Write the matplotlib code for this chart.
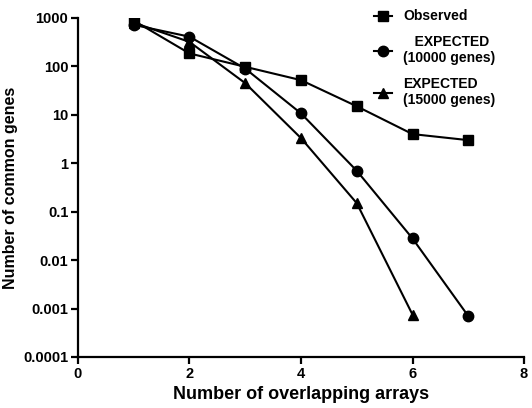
import matplotlib
matplotlib.use("Agg")
import matplotlib.pyplot as plt
from matplotlib.ticker import FixedLocator, FuncFormatter, NullLocator

plt.rcParams['font.family'] = ['Liberation Sans', 'DejaVu Sans']
plt.rcParams['font.weight'] = 'bold'

x_obs = [1, 2, 3, 4, 5, 6, 7]
observed = [880, 185, 98, 52, 15, 4.0, 3.0]
x_e10 = [1, 2, 3, 4, 5, 6, 7]
expected_10000 = [720, 410, 90, 10.7, 0.7, 0.028, 0.0007]
x_e15 = [1, 2, 3, 4, 5, 6]
expected_15000 = [800, 320, 45, 3.3, 0.15, 0.00075]

labels = ["Observed", "   EXPECTED\n(10000 genes)", "EXPECTED\n(15000 genes)"]
yticks = [1000, 100, 10, 1, 0.1, 0.01, 0.001, 0.0001]
xticks = [0, 2, 4, 6, 8]

fig = plt.figure(figsize=(5.32, 4.08), dpi=100)
ax = fig.add_axes([0.1466, 0.125, 0.985 - 0.1466, 0.956 - 0.125])

l1, = ax.plot(x_obs, observed, color='black', lw=1.5, marker='s', ms=7.5)
l2, = ax.plot(x_e10, expected_10000, color='black', lw=1.5, marker='o', ms=7.5)
l3, = ax.plot(x_e15, expected_15000, color='black', lw=1.5, marker='^', ms=7.5)

ax.set_yscale('log')
ax.set_ylim(0.0001, 1000)
ax.set_xlim(0, 8)
ax.yaxis.set_major_locator(FixedLocator(yticks))
ax.yaxis.set_minor_locator(NullLocator())
ax.yaxis.set_major_formatter(FuncFormatter(lambda v, p: '%g' % v))
ax.set_xticks(xticks)

for s in ['top', 'right']:
    ax.spines[s].set_visible(False)
for s in ['left', 'bottom']:
    ax.spines[s].set_linewidth(1.6)
ax.tick_params(axis='both', direction='out', length=5, width=1.6, labelsize=10.5, pad=2)
for lab in ax.get_xticklabels() + ax.get_yticklabels():
    lab.set_fontweight('bold')

ax.set_xlabel("Number of overlapping arrays", fontsize=13, fontweight='bold', labelpad=4)
ax.set_ylabel("Number of common genes", fontsize=11.5, fontweight='bold', labelpad=4)

leg = ax.legend([l1, l2, l3], labels, loc='upper left', bbox_to_anchor=(0.635, 1.062),
                frameon=False, handlelength=1.3, labelspacing=0.85,
                handletextpad=0.8, prop={'weight': 'bold', 'size': 10})

fig.savefig("out.png", dpi=100)
